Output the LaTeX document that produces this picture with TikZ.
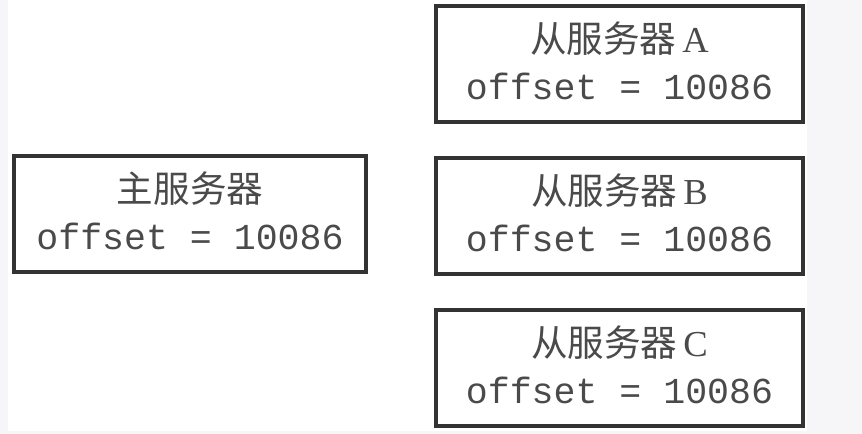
\documentclass[tikz,border=0pt]{standalone}
\usepackage{fontspec}
\setmonofont{Liberation Mono}
\setmainfont{Liberation Serif}
\newfontfamily\cjk{Noto Sans CJK SC}
\definecolor{pagegray}{HTML}{F6F6F8}
\definecolor{boxline}{HTML}{333333}
\definecolor{textgray}{HTML}{4A4A4A}
\tikzset{
  serverbox/.style={draw=boxline, line width=2.8pt, rectangle, fill=white,
    minimum height=2.9cm, align=center, text=textgray,
    font=\fontsize{26}{33.5}\selectfont},
}
\newcommand{\offsetline}{\texttt{offset = 10086}\rule[-5pt]{0pt}{0pt}}
\begin{document}
\begin{tikzpicture}[x=0.025cm, y=-0.025cm]
% page
\fill[pagegray] (0,0) rectangle (862,434);
\fill[white] (8,0) rectangle (807,431);
\useasboundingbox (0,0) rectangle (862,434);

% master
\node[serverbox, minimum width=8.8cm] (master) at (190,214) {{\cjk 主服务器}\\\offsetline};

% slaves
\node[serverbox, minimum width=9.175cm] (slaveA) at (619.5,64) {{\cjk 从服务器}\,A\\\offsetline};
\node[serverbox, minimum width=9.175cm] (slaveB) at (619.5,216) {{\cjk 从服务器}\,B\\\offsetline};
\node[serverbox, minimum width=9.175cm] (slaveC) at (619.5,368) {{\cjk 从服务器}\,C\\\offsetline};
\end{tikzpicture}
\end{document}
